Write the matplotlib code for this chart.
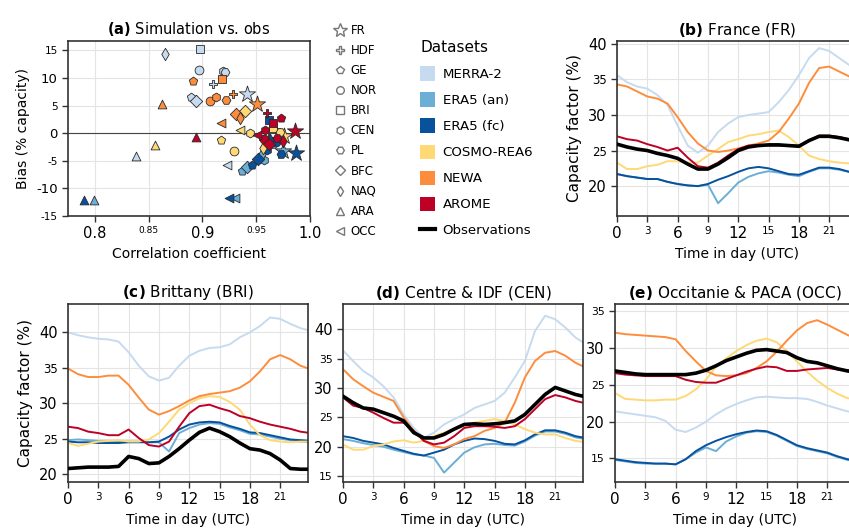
import numpy as np
import matplotlib.pyplot as plt
from matplotlib.lines import Line2D
from matplotlib.patches import Patch

# categories / styles of the datasets
datasets = ['MERRA-2', 'ERA5 (an)', 'ERA5 (fc)', 'COSMO-REA6', 'NEWA', 'AROME']
colors = ['#c6dbef', '#6baed6', '#08519c', '#fed976', '#fd8d3c', '#bd0026']
regions = ['FR', 'HDF', 'GE', 'NOR', 'BRI', 'CEN', 'PL', 'BFC', 'NAQ', 'ARA', 'OCC']
markers = ['*', 'P', 'p', 'o', 's', 'h', 'H', 'D', 'd', '^', '<']

# (a) correlation / bias, one value per region (same order as regions)
corr_merra2 = [0.941, 0.910, 0.889, 0.897, 0.898, 0.919, 0.921, 0.894, 0.865, 0.838, 0.923]
bias_merra2 = [7.1, 9.0, 6.6, 11.4, 15.3, 11.3, 11.0, 5.9, 14.3, -4.2, -5.8]
corr_era5an = [0.975, 0.956, 0.937, 0.958, 0.963, 0.957, 0.966, 0.941, 0.955, 0.799, 0.930]
bias_era5an = [-3.3, -1.0, -6.9, -2.6, -1.5, -4.8, -2.0, -6.2, -3.8, -12.1, -11.8]
corr_era5fc = [0.987, 0.962, 0.946, 0.968, 0.962, 0.960, 0.973, 0.952, 0.963, 0.790, 0.925]
bias_era5fc = [-3.6, -0.8, -5.7, -1.6, 2.4, -3.0, -3.8, -4.6, -1.2, -12.1, -11.8]
corr_cosmo = [0.976, 0.968, 0.917, 0.929, 0.966, 0.944, 0.972, 0.940, 0.956, 0.856, 0.935]
bias_cosmo = [-0.5, 0.8, -1.3, -3.2, 1.0, 0.0, 0.2, 4.0, -2.6, -2.1, 0.6]
corr_newa = [0.951, 0.928, 0.891, 0.907, 0.918, 0.913, 0.922, 0.931, 0.935, 0.862, 0.917]
bias_newa = [5.2, 7.1, 9.4, 5.8, 9.9, 6.5, 6.0, 3.4, 2.8, 5.3, 1.9]
corr_arome = [0.986, 0.960, 0.973, 0.957, 0.966, 0.958, 0.969, 0.962, 0.975, 0.894, 0.951]
bias_arome = [0.4, 3.7, 2.8, -1.0, 1.8, 0.5, -0.8, -2.0, -1.5, -0.7, -0.3]

hours = np.arange(25)

# (b) France
fr_merra2 = [35.6, 34.6, 34.0, 33.7, 32.8, 31.4, 28.5, 25.7, 24.7, 25.7, 27.6, 28.8, 29.7, 30.0, 30.2, 30.4, 31.8, 33.5, 35.6, 38.0, 39.4, 39.0, 38.0, 37.0, 36.0]
fr_era5an = [21.7, 21.4, 21.2, 21.0, 21.0, 20.6, 20.3, 20.1, 20.0, 20.2, 17.6, 19.0, 20.5, 21.3, 21.8, 22.1, 21.9, 21.6, 21.4, 22.0, 22.5, 22.5, 22.3, 22.0, 21.8]
fr_era5fc = [21.7, 21.4, 21.2, 21.0, 21.0, 20.6, 20.3, 20.1, 20.0, 20.3, 20.9, 21.4, 22.0, 22.5, 22.7, 22.5, 22.1, 21.7, 21.6, 22.1, 22.6, 22.6, 22.4, 22.0, 21.8]
fr_cosmo = [23.3, 22.4, 22.4, 22.8, 23.0, 23.5, 23.5, 23.3, 23.3, 24.3, 25.2, 26.2, 26.6, 27.1, 27.3, 27.6, 27.8, 26.9, 25.7, 24.3, 23.8, 23.5, 23.3, 23.2, 23.2]
fr_newa = [34.3, 34.0, 33.3, 32.6, 32.3, 31.6, 29.7, 27.6, 26.0, 25.0, 24.8, 25.0, 25.3, 25.7, 26.0, 26.4, 27.6, 29.5, 31.6, 34.5, 36.6, 36.8, 36.1, 35.4, 34.8]
fr_arome = [27.0, 26.6, 26.4, 25.9, 25.5, 25.0, 25.4, 24.0, 22.8, 22.6, 23.3, 24.3, 25.2, 25.7, 25.8, 25.7, 25.7, 25.7, 25.7, 26.4, 27.1, 27.1, 26.9, 26.6, 26.4]
fr_obs = [25.9, 25.5, 25.2, 25.0, 24.6, 24.3, 23.9, 23.1, 22.4, 22.4, 23.1, 24.0, 25.0, 25.5, 25.7, 25.8, 25.8, 25.7, 25.6, 26.4, 27.0, 27.0, 26.8, 26.5, 26.2]

# (c) Brittany
bri_merra2 = [40.0, 39.6, 39.3, 39.1, 39.0, 38.7, 37.2, 35.3, 33.8, 33.2, 33.6, 35.3, 36.7, 37.4, 37.8, 37.9, 38.3, 39.3, 40.0, 40.9, 42.1, 41.9, 41.2, 40.6, 40.2]
bri_era5an = [24.8, 24.9, 24.8, 24.7, 24.7, 24.6, 24.6, 24.6, 24.5, 24.5, 23.2, 25.8, 26.5, 27.0, 27.2, 27.1, 26.6, 26.2, 25.7, 25.6, 25.3, 25.0, 24.8, 24.6, 24.5]
bri_era5fc = [24.6, 24.5, 24.5, 24.4, 24.4, 24.4, 24.5, 24.5, 24.5, 24.6, 25.3, 26.3, 27.0, 27.3, 27.4, 27.3, 26.8, 26.4, 25.9, 25.8, 25.5, 25.2, 24.9, 24.8, 24.7]
bri_cosmo = [24.4, 24.0, 24.3, 24.6, 24.7, 24.8, 24.6, 24.6, 24.9, 25.8, 27.4, 29.1, 30.0, 30.7, 31.0, 30.9, 30.2, 29.1, 27.0, 25.5, 24.8, 24.6, 24.5, 24.6, 24.6]
bri_newa = [34.9, 34.1, 33.7, 33.7, 33.9, 33.9, 32.6, 30.8, 29.1, 28.4, 28.9, 29.6, 30.4, 31.0, 31.3, 31.5, 31.7, 32.2, 33.1, 34.5, 36.2, 36.8, 36.2, 35.3, 34.8]
bri_arome = [26.7, 26.5, 26.0, 25.8, 25.5, 25.5, 26.3, 25.1, 24.1, 23.9, 24.6, 26.7, 28.6, 29.6, 29.8, 29.3, 28.9, 28.2, 27.9, 27.4, 27.0, 26.7, 26.4, 26.0, 25.8]
bri_obs = [20.8, 20.9, 21.0, 21.0, 21.0, 21.1, 22.5, 22.2, 21.5, 21.6, 22.5, 23.6, 24.8, 25.9, 26.5, 26.0, 25.3, 24.4, 23.6, 23.4, 22.9, 22.0, 20.8, 20.7, 20.7]

# (d) Centre & IDF
cen_merra2 = [36.4, 34.6, 32.9, 31.8, 30.3, 28.4, 25.5, 23.2, 21.5, 22.4, 23.8, 24.7, 25.5, 26.6, 27.2, 27.8, 29.2, 31.8, 34.6, 39.7, 42.3, 41.7, 40.3, 38.6, 37.5]
cen_era5an = [21.3, 21.0, 20.6, 20.3, 20.0, 19.5, 19.1, 18.7, 18.5, 18.1, 15.6, 17.3, 19.0, 19.9, 20.4, 20.5, 20.3, 20.2, 20.9, 21.9, 22.6, 22.6, 22.2, 21.6, 21.3]
cen_era5fc = [21.8, 21.5, 21.0, 20.7, 20.4, 19.8, 19.3, 18.8, 18.5, 19.0, 19.5, 20.4, 21.0, 21.4, 21.3, 21.0, 20.5, 20.4, 21.1, 22.1, 22.8, 22.8, 22.4, 21.8, 21.5]
cen_cosmo = [20.4, 19.5, 19.5, 20.1, 20.4, 20.9, 21.1, 20.7, 21.0, 21.8, 22.4, 23.0, 23.5, 24.1, 24.4, 24.7, 24.4, 23.8, 23.0, 22.4, 22.1, 22.1, 21.5, 21.0, 20.8]
cen_newa = [33.2, 31.5, 30.3, 29.2, 28.5, 27.8, 25.0, 22.7, 21.0, 20.1, 19.8, 20.4, 21.3, 21.8, 22.7, 23.2, 24.1, 27.5, 31.8, 34.6, 36.0, 36.3, 35.5, 34.3, 33.5]
cen_arome = [28.4, 27.0, 26.6, 25.8, 24.9, 24.1, 24.1, 22.7, 21.0, 20.4, 20.7, 21.8, 23.2, 23.5, 23.5, 23.4, 23.2, 23.5, 24.7, 26.4, 28.1, 28.8, 28.4, 27.8, 27.4]
cen_obs = [28.6, 27.5, 26.6, 26.4, 25.8, 25.2, 24.4, 22.4, 21.5, 21.5, 22.1, 23.0, 23.8, 23.9, 23.8, 23.9, 24.1, 24.4, 25.5, 27.2, 28.9, 30.1, 29.5, 28.9, 28.5]

# (e) Occitanie & PACA
occ_merra2 = [21.4, 21.2, 21.0, 20.8, 20.6, 20.1, 18.9, 18.6, 19.2, 20.0, 21.0, 21.8, 22.4, 22.9, 23.3, 23.4, 23.3, 23.2, 23.2, 23.1, 22.7, 22.2, 21.8, 21.4, 21.2]
occ_era5an = [14.8, 14.6, 14.4, 14.3, 14.3, 14.3, 14.2, 14.9, 15.8, 16.5, 16.0, 17.3, 18.0, 18.5, 18.7, 18.6, 18.1, 17.4, 16.7, 16.3, 16.0, 15.7, 15.2, 14.8, 14.6]
occ_era5fc = [14.9, 14.7, 14.5, 14.4, 14.3, 14.3, 14.2, 14.9, 16.0, 16.8, 17.4, 17.9, 18.3, 18.6, 18.8, 18.7, 18.2, 17.5, 16.8, 16.4, 16.1, 15.8, 15.3, 14.9, 14.7]
occ_cosmo = [23.9, 23.1, 23.0, 22.9, 22.9, 23.0, 23.0, 23.5, 24.4, 25.7, 27.5, 28.6, 29.6, 30.4, 31.0, 31.3, 30.8, 29.6, 28.2, 26.8, 25.6, 24.6, 23.8, 23.2, 23.0]
occ_newa = [32.1, 31.9, 31.8, 31.7, 31.6, 31.5, 31.2, 29.6, 28.2, 26.9, 26.3, 26.2, 26.3, 26.6, 27.3, 28.2, 29.5, 31.0, 32.4, 33.4, 33.8, 33.2, 32.5, 31.8, 31.2]
occ_arome = [26.6, 26.4, 26.3, 26.2, 26.2, 26.2, 26.2, 25.7, 25.4, 25.3, 25.3, 25.8, 26.3, 26.8, 27.2, 27.5, 27.4, 26.9, 26.9, 27.1, 27.2, 27.3, 27.1, 27.0, 26.9]
occ_obs = [26.9, 26.7, 26.5, 26.4, 26.4, 26.4, 26.4, 26.4, 26.6, 27.0, 27.6, 28.3, 28.8, 29.3, 29.7, 29.8, 29.6, 29.4, 28.7, 28.2, 28.0, 27.6, 27.2, 26.9, 26.7]


def alt_ticks(ax, axis, ticks, bigs, big, small, labels=None):
    labels = labels or [str(v) for v in ticks]
    if axis == 'x':
        ax.set_xticks(ticks, labels)
        tl = ax.get_xticklabels()
    else:
        ax.set_yticks(ticks, labels)
        tl = ax.get_yticklabels()
    for lab, b in zip(tl, bigs):
        lab.set_fontsize(big if b else small)


def frame(ax):
    ax.grid(True, color='#e4e4e4', lw=0.8)
    ax.set_axisbelow(True)
    for s in ax.spines.values():
        s.set_color('#333333')
        s.set_linewidth(1.2)
    ax.tick_params(color='#333333', length=4, width=1)


W, H = 849, 532
fig = plt.figure(figsize=(W / 100, H / 100), dpi=100)


def box(l, t, r, b):
    return [l / W, 1 - b / H, (r - l) / W, (b - t) / H]


# ---- (a) scatter
ax = fig.add_axes(box(68, 41, 310, 216))
frame(ax)
ax.axhline(0, color='#444444', lw=0.8, zorder=1)
all_corr = [corr_merra2, corr_era5an, corr_era5fc, corr_cosmo, corr_newa, corr_arome]
all_bias = [bias_merra2, bias_era5an, bias_era5fc, bias_cosmo, bias_newa, bias_arome]
for c, xs, ys in zip(colors, all_corr, all_bias):
    for m, x, y in zip(markers, xs, ys):
        ax.scatter(x, y, marker=m, s=150 if m == '*' else 40, color=c,
                   edgecolor='#2a2a2a', linewidth=0.6, zorder=3)
alt_ticks(ax, 'x', [0.8, 0.85, 0.9, 0.95, 1.0], [True, False, True, False, True], 10.5, 6.5,
          ['0.8', '0.85', '0.9', '0.95', '1.0'])
yt = [-15, -10, -5, 0, 5, 10, 15]
alt_ticks(ax, 'y', yt, [v % 10 == 0 for v in yt], 9.5, 7.5)
ax.set_xlim(0.775, 1.0)
ax.set_ylim(-15, 16.7)
ax.set_xlabel('Correlation coefficient', fontsize=10)
ax.set_ylabel('Bias (% capacity)', fontsize=10)
ax.set_title(r'$\bf{(a)}$ Simulation vs. obs', fontsize=10.5, pad=5)

# ---- line panels
panels = [
    ('(b)', 'France (FR)', box(617, 41, 857, 216), (15.8, 40.4), [20, 25, 30, 35, 40], True,
     [fr_merra2, fr_era5an, fr_era5fc, fr_cosmo, fr_newa, fr_arome], fr_obs),
    ('(c)', 'Brittany (BRI)', box(68, 304, 308, 482), (18.9, 44.0), [20, 25, 30, 35, 40], True,
     [bri_merra2, bri_era5an, bri_era5fc, bri_cosmo, bri_newa, bri_arome], bri_obs),
    ('(d)', 'Centre & IDF (CEN)', box(343, 304, 583, 482), (14.0, 44.3), [15, 20, 25, 30, 35, 40], False,
     [cen_merra2, cen_era5an, cen_era5fc, cen_cosmo, cen_newa, cen_arome], cen_obs),
    ('(e)', 'Occitanie & PACA (OCC)', box(615, 304, 855, 482), (11.8, 36.0), [15, 20, 25, 30, 35], False,
     [occ_merra2, occ_era5an, occ_era5fc, occ_cosmo, occ_newa, occ_arome], occ_obs),
]

for tag, name, pos, ylim, yt, ylab, series, obs in panels:
    ax = fig.add_axes(pos)
    frame(ax)
    for c, vals in zip(colors, series):
        ax.plot(hours, vals, color=c, lw=1.4, zorder=2)
    ax.plot(hours, obs, color='black', lw=2.6, zorder=3)
    xt = list(range(0, 24, 3))
    alt_ticks(ax, 'x', xt, [v % 6 == 0 for v in xt], 11, 7.5)
    alt_ticks(ax, 'y', yt, [v % 10 == 0 for v in yt], 10.5, 8.5 if ylab else 7.8)
    ax.set_xlim(0, 23.75)
    ax.set_ylim(*ylim)
    ax.set_xlabel('Time in day (UTC)', fontsize=10)
    if ylab:
        ax.set_ylabel('Capacity factor (%)', fontsize=11)
    ax.set_title(r'$\bf{' + tag + '}$ ' + name, fontsize=11, pad=5)

# ---- legends
reg_handles = [Line2D([], [], marker=m, ls='none', mec='#777777', mfc='white',
                      mew=1, ms=10 if m == '*' else 5.5) for m in markers]
fig.legend(reg_handles, regions, loc='upper left', bbox_to_anchor=(333 / W, 1 - 24 / H),
           frameon=False, fontsize=8.5, labelspacing=0.6, handlelength=1.2,
           handletextpad=0.3, borderpad=0, borderaxespad=0)

ds_handles = [Patch(facecolor=c, edgecolor='none') for c in colors]
ds_handles.append(Line2D([], [], color='black', lw=3))
fig.legend(ds_handles, datasets + ['Observations'], loc='upper left',
           bbox_to_anchor=(420 / W, 1 - 40 / H), frameon=False, fontsize=9.6,
           title='Datasets', title_fontsize=11, alignment='left',
           labelspacing=0.85, handlelength=1.1, handleheight=1.3,
           handletextpad=0.6, borderpad=0, borderaxespad=0)

fig.savefig('out.png', dpi=100)
